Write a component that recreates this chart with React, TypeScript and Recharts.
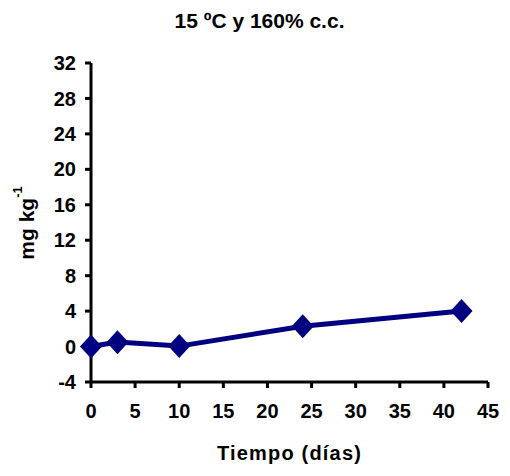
import { LineChart, Line, XAxis, YAxis, Label } from 'recharts';

// Días de incubación y concentración medida
const dias = [0, 3, 10, 24, 42];
const mgKg = [0, 0.5, 0.05, 2.3, 4.0];
const xTicks = [0, 5, 10, 15, 20, 25, 30, 35, 40, 45];
const yTicks = [-4, 0, 4, 8, 12, 16, 20, 24, 28, 32];

const NAVY = '#000080';
const FONT = '"Liberation Sans", Arial, sans-serif';

const data = dias.map((d, i) => ({ dia: d, valor: mgKg[i] }));

// Rombo del marcador
const Diamond = (props: any) => {
  const { cx, cy } = props;
  if (cx == null || cy == null) return null;
  const w = 11;
  const h = 12;
  return (
    <polygon
      points={`${cx},${cy - h} ${cx + w},${cy} ${cx},${cy + h} ${cx - w},${cy}`}
      fill={NAVY}
    />
  );
};

const YTitle = () => (
  <text
    x={26}
    y={223}
    transform="rotate(-90 26 223)"
    textAnchor="middle"
    dominantBaseline="central"
    fontFamily={FONT}
    fontWeight="bold"
    fontSize={21}
    fill="#000"
  >
    mg kg
    <tspan dy={-9} fontSize={13}>-1</tspan>
  </text>
);

export default function App() {
  const tick = { fill: '#000', fontSize: 20, fontWeight: 'bold', fontFamily: FONT };
  return (
    <div style={{ position: 'absolute', left: 0, top: 0, width: 510, height: 476, background: '#fff' }}>
      <div
        style={{
          position: 'absolute',
          left: 0,
          width: 519,
          top: 9,
          textAlign: 'center',
          fontFamily: FONT,
          fontWeight: 'bold',
          fontSize: 21,
        }}
      >
        15 ºC y 160% c.c.
      </div>
      <LineChart
        width={510}
        height={476}
        data={data}
        margin={{ top: 63, right: 22, bottom: 34, left: 31 }}
      >
        <XAxis
          type="number"
          dataKey="dia"
          domain={[0, 45]}
          ticks={xTicks}
          interval={0}
          height={60}
          tick={tick}
          tickSize={6}
          tickMargin={16}
          axisLine={{ stroke: '#000', strokeWidth: 3 }}
          tickLine={{ stroke: '#000', strokeWidth: 3 }}
        >
          <Label
            value="Tiempo (días)"
            position="insideBottom"
            offset={0}
            content={(p: any) => {
              const vb = p.viewBox || {};
              return (
                <text
                  x={vb.x + vb.width / 2}
                  y={453}
                  textAnchor="middle"
                  dominantBaseline="central"
                  fontFamily={FONT}
                  fontWeight="bold"
                  fontSize={20}
                  letterSpacing={1.2}
                  fill="#000"
                >
                  Tiempo (días)
                </text>
              );
            }}
          />
        </XAxis>
        <YAxis
          type="number"
          domain={[-4, 32]}
          ticks={yTicks}
          interval={0}
          width={60}
          tick={tick}
          tickSize={6}
          tickMargin={9}
          axisLine={{ stroke: '#000', strokeWidth: 3 }}
          tickLine={{ stroke: '#000', strokeWidth: 3 }}
        >
          <Label content={() => <YTitle />} />
        </YAxis>
        <Line
          type="linear"
          dataKey="valor"
          stroke={NAVY}
          strokeWidth={5}
          dot={<Diamond />}
          activeDot={false}
          isAnimationActive={false}
        />
      </LineChart>
    </div>
  );
}
